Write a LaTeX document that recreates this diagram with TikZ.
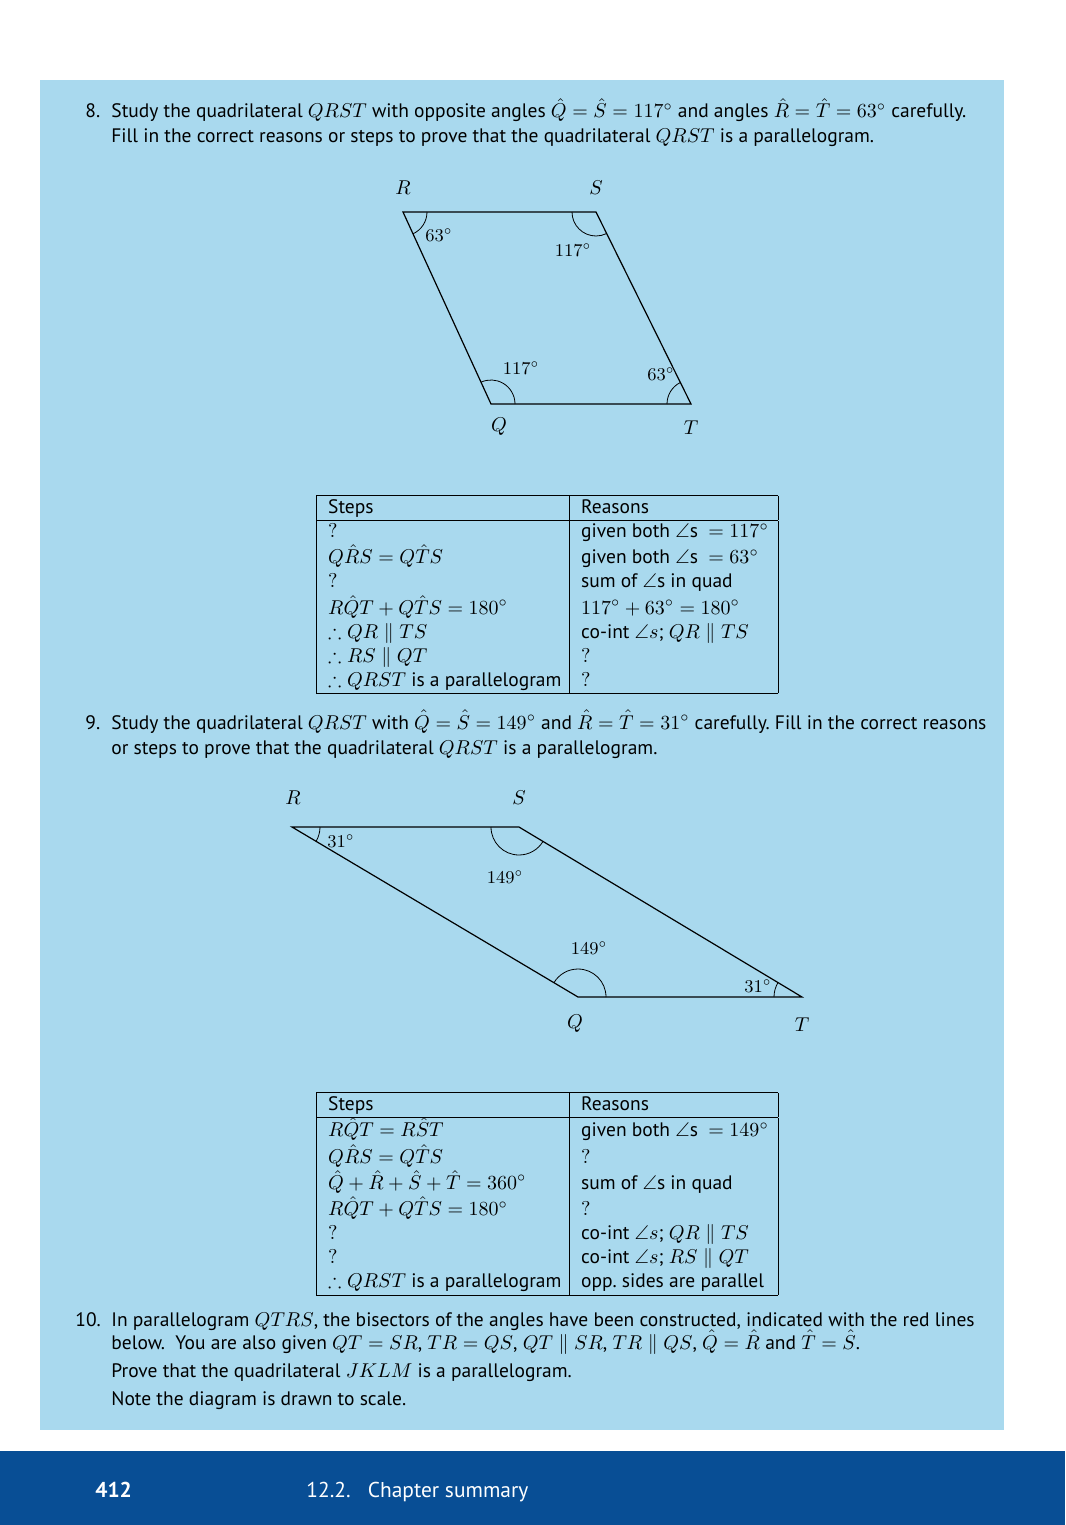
\documentclass[tikz,border=0pt]{standalone}
\usepackage{amsmath}
\usepackage{amssymb}
\usepackage{array}
\usepackage{fontspec}
\setmainfont[Scale=0.975]{PT Sans}
\usetikzlibrary{angles}

\definecolor{panelblue}{RGB}{169,217,238}
\definecolor{footblue}{RGB}{8,78,149}
\setlength{\tabcolsep}{5.5pt}

\tikzset{
  side/.style={line width=0.6pt},
  angarc/.style={draw, line width=0.4pt},
  vlabel/.style={inner sep=0pt},
  alabel/.style={inner sep=0pt, font=\small},
  txt/.style={anchor=base west, inner sep=0pt},
  tabbox/.style={anchor=north west, inner sep=0pt},
  foot/.style={txt, text=white, font=\fontsize{11}{13}\selectfont}
}

\begin{document}
\begin{tikzpicture}[x=0.5pt,y=-0.5pt]
\useasboundingbox (0,0) rectangle (1065,1525);
% page background
\fill [panelblue] (40,80) rectangle (1004,1430);
\fill [footblue] (0,1451) rectangle (1065,1525);

% question 8
\node [txt] (n8) at (85,118) {8.};
\node [txt] (q8a) at (111,118) {Study the quadrilateral $QRST$ with opposite angles $\hat{Q}=\hat{S}=117^\circ$ and angles $\hat{R}=\hat{T}=63^\circ$ carefully.};
\node [txt] (q8b) at (111,142) {Fill in the correct reasons or steps to prove that the quadrilateral $QRST$ is a parallelogram.};

% first parallelogram
\coordinate (R1) at (403,212);
\coordinate (S1) at (596,212);
\coordinate (Q1) at (491,404);
\coordinate (T1) at (691,404);
\draw [side] (R1) -- (S1) -- (T1) -- (Q1) -- cycle;
\pic [angarc, angle radius=12pt] {angle=Q1--R1--S1};
\pic [angarc, angle radius=12pt] {angle=R1--S1--T1};
\pic [angarc, angle radius=12pt] {angle=T1--Q1--R1};
\pic [angarc, angle radius=12pt] {angle=S1--T1--Q1};
\node [vlabel] (lR1) at (403,188) {$R$};
\node [vlabel] (lS1) at (596,188) {$S$};
\node [vlabel] (lQ1) at (499,427) {$Q$};
\node [vlabel] (lT1) at (691,428) {$T$};
\node [alabel] (aR1) at (439,235) {$63^\circ$};
\node [alabel] (aS1) at (573,250) {$117^\circ$};
\node [alabel] (aQ1) at (521,368) {$117^\circ$};
\node [alabel] (aT1) at (661,374) {$63^\circ$};

% first table
\node [tabbox] (tabA) at (316,495) {\begin{tabular}{|w{l}{115.1pt}|w{l}{92.7pt}|}
\hline
Steps & Reasons\\ \hline
$?$ & given both $\angle$s \ $=117^\circ$\\
$Q\hat{R}S=Q\hat{T}S$ & given both $\angle$s \ $=63^\circ$\\
$?$ & sum of $\angle$s in quad\\
$R\hat{Q}T+Q\hat{T}S=180^\circ$ & $117^\circ+63^\circ=180^\circ$\\
$\therefore QR\parallel TS$ & co-int $\angle s$; $QR\parallel TS$\\
$\therefore RS\parallel QT$ & $?$\\
$\therefore QRST$ is a parallelogram & $?$\\
\hline
\end{tabular}};

% question 9
\node [txt] (n9) at (85,729) {9.};
\node [txt] (q9a) at (111,729) {Study the quadrilateral $QRST$ with $\hat{Q}=\hat{S}=149^\circ$ and $\hat{R}=\hat{T}=31^\circ$ carefully.\ Fill in the correct reasons};
\node [txt] (q9b) at (111,754) {or steps to prove that the quadrilateral $QRST$ is a parallelogram.};

% second parallelogram
\coordinate (R2) at (292,827);
\coordinate (S2) at (519,827);
\coordinate (Q2) at (578,997);
\coordinate (T2) at (802,997);
\draw [side] (R2) -- (S2) -- (T2) -- (Q2) -- cycle;
\pic [angarc, angle radius=14pt] {angle=Q2--R2--S2};
\pic [angarc, angle radius=14pt] {angle=R2--S2--T2};
\pic [angarc, angle radius=14pt] {angle=T2--Q2--R2};
\pic [angarc, angle radius=14pt] {angle=S2--T2--Q2};
\node [vlabel] (lR2) at (293,798) {$R$};
\node [vlabel] (lS2) at (519,798) {$S$};
\node [vlabel] (lQ2) at (575,1024) {$Q$};
\node [vlabel] (lT2) at (802,1025) {$T$};
\node [alabel] (aR2) at (341,841) {$31^\circ$};
\node [alabel] (aS2) at (505,877) {$149^\circ$};
\node [alabel] (aQ2) at (589,948) {$149^\circ$};
\node [alabel] (aT2) at (758,986) {$31^\circ$};

% second table
\node [tabbox] (tabB) at (316,1092) {\begin{tabular}{|w{l}{115.1pt}|w{l}{92.7pt}|}
\hline
Steps & Reasons\\ \hline
$R\hat{Q}T=R\hat{S}T$ & given both $\angle$s \ $=149^\circ$\\
$Q\hat{R}S=Q\hat{T}S$ & $?$\\
$\hat{Q}+\hat{R}+\hat{S}+\hat{T}=360^\circ$ & sum of $\angle$s in quad\\
$R\hat{Q}T+Q\hat{T}S=180^\circ$ & $?$\\
$?$ & co-int $\angle s$; $QR\parallel TS$\\
$?$ & co-int $\angle s$; $RS\parallel QT$\\
$\therefore QRST$ is a parallelogram & opp.\ sides are parallel\\
\hline
\end{tabular}};

% question 10
\node [txt] (n10) at (75,1326) {10.};
\node [txt] (q10a) at (111,1326) {In parallelogram $QTRS$, the bisectors of the angles have been constructed, indicated with the red lines};
\node [txt] (q10b) at (111,1349) {below.\ \ You are also given $QT=SR$, $TR=QS$, $QT\parallel SR$, $TR\parallel QS$, $\hat{Q}=\hat{R}$ and $\hat{T}=\hat{S}$.};
\node [txt] (q10c) at (111,1377) {Prove that the quadrilateral $JKLM$ is a parallelogram.};
\node [txt] (q10d) at (111,1405) {Note the diagram is drawn to scale.};

% footer
\node [foot, font=\fontsize{11}{13}\selectfont\bfseries] (pg) at (95,1497) {412};
\node [foot] (chap) at (306,1497) {12.2.\hspace{0.8em}Chapter summary};
\end{tikzpicture}
\end{document}
